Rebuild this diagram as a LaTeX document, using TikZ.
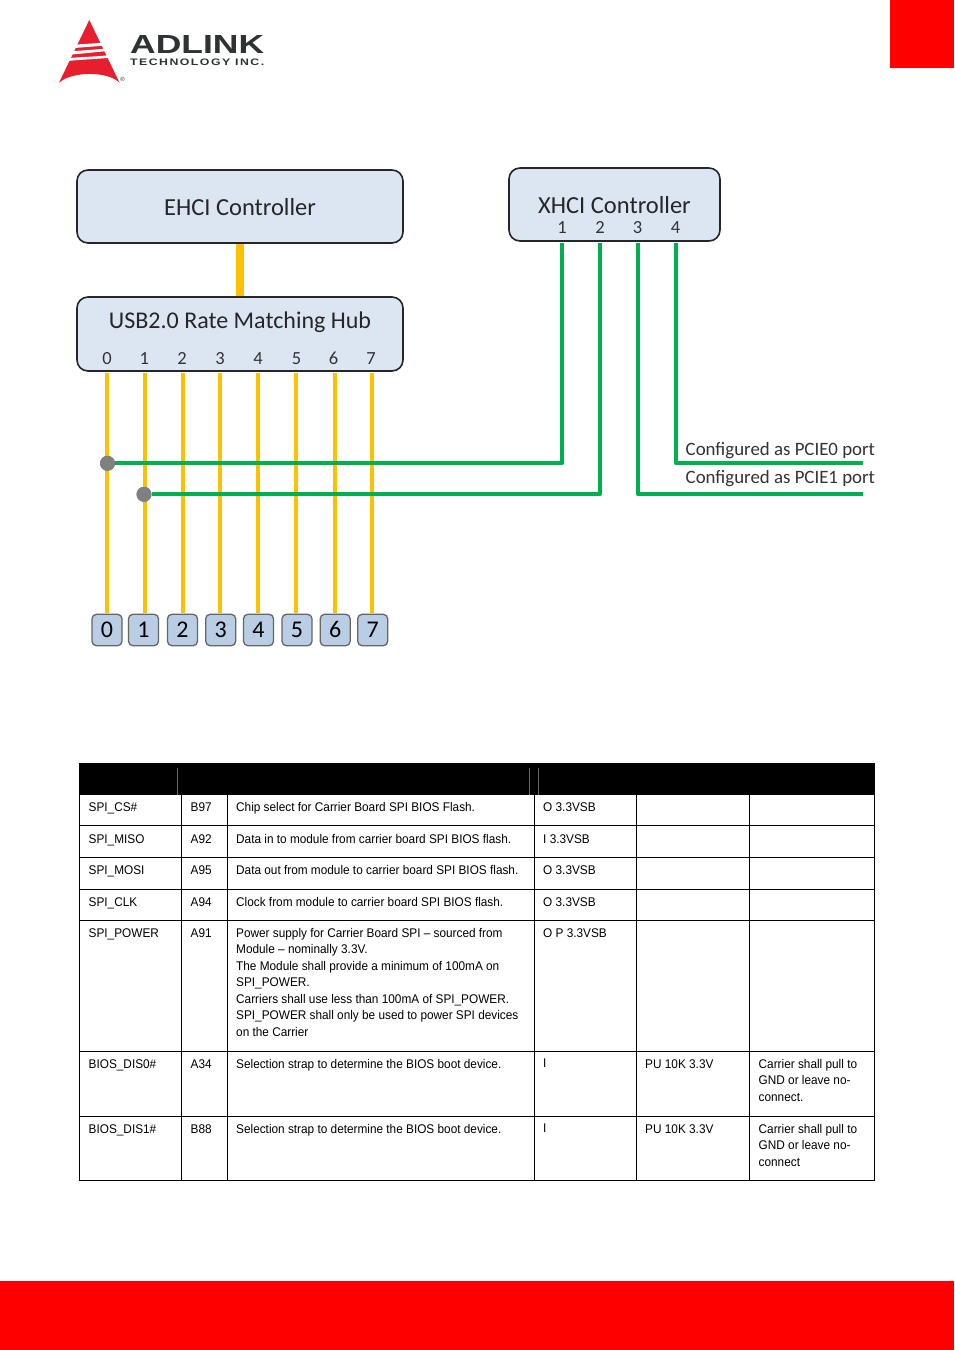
\documentclass[tikz,border=0pt]{standalone}
\usepackage{fontspec}
\setmainfont{Carlito}
\newfontfamily\tablefont[FakeStretch=.937]{Liberation Sans}
\newfontfamily\logofont{Liberation Sans}
\usetikzlibrary{positioning}
\definecolor{adlinkred}{RGB}{255,0,0}
\definecolor{logored}{RGB}{230,30,45}
\definecolor{logogray}{RGB}{45,50,52}
\definecolor{boxblue}{RGB}{220,230,242}
\definecolor{pinblue}{RGB}{185,205,229}
\definecolor{usbyellow}{RGB}{255,192,0}
\definecolor{pcigreen}{RGB}{0,176,80}
\tikzset{
 ctrlbox/.style={draw=black!85,fill=boxblue,line width=1.6pt,rounded corners=11pt},
 ctrltext/.style={inner sep=0pt,font=\fontsize{24.5}{26}\selectfont,text=black!85},
 portnum/.style={inner sep=0pt,text height=12pt,text depth=0pt,font=\fontsize{18.5}{20}\selectfont,text=black!80},
 pinbox/.style={draw=black!60,fill=pinblue,line width=1.3pt,rounded corners=4.5pt,minimum width=30pt,minimum height=31.5pt,inner sep=0pt,text height=15pt,text depth=0pt,font=\fontsize{24}{26}\selectfont},
 usbline/.style={usbyellow,line width=4pt},
 pciline/.style={pcigreen,line width=4pt},
 joint/.style={circle,fill=black!50,minimum size=15pt,inner sep=0pt},
 portlabel/.style={inner sep=0pt,anchor=base west,font=\fontsize{18.85}{22}\selectfont,text=black!80},
 cell/.style={inner sep=0pt,anchor=north west,align=left,font=\tablefont\fontsize{12.6}{16.5}\selectfont},
 rule/.style={black,line width=.8pt}
}
\begin{document}
\begin{tikzpicture}[x=1pt,y=-1pt,line join=round]
\useasboundingbox (0,0) rectangle (954,1350);
% pasek u gory i u dolu strony
\fill[adlinkred] (890,0) rectangle (954,68);
\fill[adlinkred] (0,1281) rectangle (954,1350);
% logo
\fill[logored] (89.3,20)--(119.5,82.7) .. controls (108,71) and (72,71) .. (59,82.7)--cycle;
\fill[white] (76,44.5) .. controls (84,44) and (94,43.5) .. (104,42.5)--(105.5,45.5) .. controls (95,46.5) and (85,47) .. (75,48)--cycle;
\fill[white] (73,51) .. controls (84,50.5) and (96,49.5) .. (107,48.5)--(108.5,51) .. controls (96,52) and (84,53.5) .. (71.5,54.5)--cycle;
\fill[white] (69,58) .. controls (82,57) and (98,56.5) .. (110.5,55)--(112,57.5) .. controls (98,59) and (82,59.5) .. (67.5,61)--cycle;
\node[inner sep=0pt,anchor=north west,text=logogray] (logoname) at (130,35) {\resizebox{134pt}{18pt}{\logofont\bfseries ADLINK}};
\node[inner sep=0pt,anchor=north west,text=logogray] (logosub) at (130,59) {\resizebox{134pt}{6.6pt}{\logofont\bfseries\addfontfeature{LetterSpace=12}TECHNOLOGY INC.}};
\node[inner sep=0pt,text=logogray,font=\logofont\fontsize{6}{6}\selectfont] (logoreg) at (122.5,79) {®};
% kontrolery i hub
\draw[usbline,line width=8pt] (239.5,240)--(239.5,300);
\node[ctrlbox,minimum width=326pt,minimum height=73pt] (ehci) at (240,206.5) {};
\node[ctrltext] (ehcitext) at (240,207) {EHCI Controller};
\node[ctrlbox,minimum width=326pt,minimum height=74pt] (hub) at (240,334) {};
\node[ctrltext,font=\fontsize{24}{26}\selectfont] (hubtext) at (240,322) {USB2.0 Rate Matching Hub};
\node[ctrlbox,minimum width=211pt,minimum height=73pt] (xhci) at (614.5,204.5) {};
\node[ctrltext] (xhcitext) at (614.5,205) {XHCI Controller};
% porty USB2.0
\foreach \nn/\xx/\xt/\xb in {0/107/107/107,1/145/144.3/143.5,2/183/182/182.5,3/220.3/220/220.7,4/258.3/258/258.5,5/296.3/296.5/297,6/334.7/333.5/335.2,7/371.7/371/372.7}{
 \coordinate (hubout\nn) at (\xx,373);
 \node[portnum] (hubnum\nn) at (\xt,358) {\nn};
 \node[pinbox] (pin\nn) at (\xb,630) {\nn};
 \draw[usbline] (hubout\nn)--(\xx,613);
}
% porty XHCI
\foreach \nn/\xx in {1/562,2/600,3/637.5,4/675.5}{
 \coordinate (xhciout\nn) at (\xx,243);
 \node[portnum] (xhcinum\nn) at (\xx,227.5) {\nn};
}
\coordinate (pcieend0) at (863,463);
\coordinate (pcieend1) at (863,494);
\node[joint] (joint0) at (107.5,463.3) {};
\node[joint] (joint1) at (144,494.3) {};
\draw[pciline] (xhciout1)|-(joint0);
\draw[pciline] (xhciout2)|-(joint1);
\draw[pciline] (xhciout3)|-(pcieend1);
\draw[pciline] (xhciout4)|-(pcieend0);
\node[joint] at (joint0) {};
\node[joint] at (joint1) {};
\node[portlabel] (pcie0text) at (685.5,455) {Configured as PCIE0 port};
\node[portlabel] (pcie1text) at (685.5,483.5) {Configured as PCIE1 port};
% tabela
\fill[black] (79,763) rectangle (875,794.5);
\foreach \xx in {177.5,529.3,538.3}{
 \draw[black!60,line width=.5pt] (\xx,768)--(\xx,794.5);}
\foreach \yy in {825.5,857,889,920.5,1051.5,1116.5,1180.5}{
 \draw[rule] (79.5,\yy)--(874.5,\yy);}
\foreach \xx in {79.5,181.5,227.5,534.5,636.5,749.5,874.5}{
 \draw[rule] (\xx,794)--(\xx,1180.5);}
\foreach \yy/\aa/\bb/\cc/\dd in {
 802/SPI\_CS\#/B97/Chip select for Carrier Board SPI BIOS Flash./O 3.3VSB,
 834/SPI\_MISO/A92/Data in to module from carrier board SPI BIOS flash./I 3.3VSB,
 865/SPI\_MOSI/A95/Data out from module to carrier board SPI BIOS flash./O 3.3VSB,
 897/SPI\_CLK/A94/Clock from module to carrier board SPI BIOS flash./O 3.3VSB,
 928/SPI\_POWER/A91/{Power supply for Carrier Board SPI – sourced from\\Module – nominally 3.3V.\\The Module shall provide a minimum of 100mA on\\SPI\_POWER.\\Carriers shall use less than 100mA of SPI\_POWER.\\SPI\_POWER shall only be used to power SPI devices\\on the Carrier}/O P 3.3VSB,
 1059/BIOS\_DIS0\#/A34/Selection strap to determine the BIOS boot device./I,
 1124/BIOS\_DIS1\#/B88/Selection strap to determine the BIOS boot device./I}{
 \node[cell] (name\yy) at (88.5,\yy) {\aa};
 \node[cell] (pin\yy) at (190.5,\yy) {\bb};
 \node[cell] (desc\yy) at (236,\yy) {\cc};
 \node[cell] (type\yy) at (543,\yy) {\dd};
}
\node[cell] (pull1059) at (645,1059) {PU 10K 3.3V};
\node[cell] (pull1124) at (645,1124) {PU 10K 3.3V};
\node[cell] (note1059) at (758.5,1059) {Carrier shall pull to\\GND or leave no-\\connect.};
\node[cell] (note1124) at (758.5,1124) {Carrier shall pull to\\GND or leave no-\\connect};
\end{tikzpicture}
\end{document}
